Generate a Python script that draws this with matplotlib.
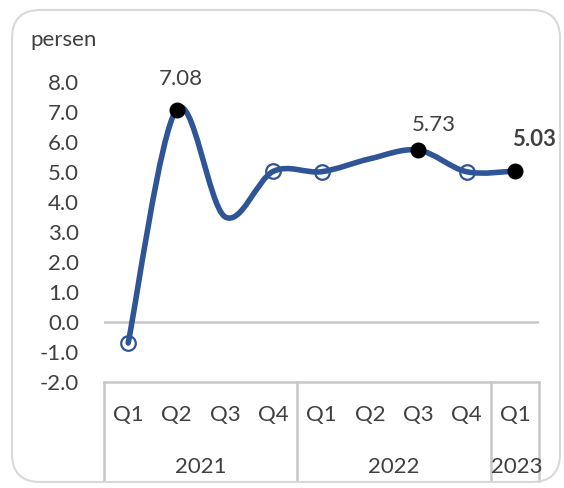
import matplotlib
matplotlib.use("Agg")
from matplotlib import pyplot as plt
from matplotlib.path import Path
from matplotlib.patches import PathPatch, FancyBboxPatch

plt.rcParams['font.family'] = ['Lato', 'DejaVu Sans']

quarters = ['Q1', 'Q2', 'Q3', 'Q4', 'Q1', 'Q2', 'Q3', 'Q4', 'Q1']
years = ['2021', '2022', '2023']
year_spans = [(0, 3), (4, 7), (8, 8)]
growth = [-0.70, 7.08, 3.51, 5.02, 5.01, 5.44, 5.73, 5.01, 5.03]
filled = [1, 6, 8]
hollow = [0, 3, 4, 7]
labels = {1: '7.08', 6: '5.73', 8: '5.03'}

blue = '#2F5597'
txt = '#404040'
grid = '#C8C8C8'
fs = 16

fig = plt.figure(figsize=(5.64, 4.88), dpi=100)
ax = fig.add_axes([104 / 564, 1 - 382 / 488, 435 / 564, 300 / 488])

# rounded frame around the chart
frame = FancyBboxPatch((12 / 564, 6 / 488), 548 / 564, 472 / 488,
                       boxstyle="round,pad=0,rounding_size=0.05",
                       transform=fig.transFigure, fill=False,
                       edgecolor='#D9D9D9', linewidth=1.5, mutation_aspect=564 / 488)
fig.add_artist(frame)

# smooth line like excel (catmull-rom -> bezier)
xs = list(range(len(growth)))
pts = list(zip(xs, growth))
verts = [pts[0]]
codes = [Path.MOVETO]
for i in range(len(pts) - 1):
    p0 = pts[i - 1] if i > 0 else pts[i]
    p1 = pts[i]
    p2 = pts[i + 1]
    p3 = pts[i + 2] if i + 2 < len(pts) else pts[i + 1]
    c1 = (p1[0] + (p2[0] - p0[0]) / 6, p1[1] + (p2[1] - p0[1]) / 6)
    c2 = (p2[0] - (p3[0] - p1[0]) / 6, p2[1] - (p3[1] - p1[1]) / 6)
    verts += [c1, c2, p2]
    codes += [Path.CURVE4] * 3
ax.add_patch(PathPatch(Path(verts, codes), facecolor='none', edgecolor=blue,
                       linewidth=4.0, capstyle='round', joinstyle='round', zorder=3))

ax.plot(hollow, [growth[i] for i in hollow], 'o', ms=10.5, mfc='none', mec=blue, mew=1.6, zorder=4)
ax.plot(filled, [growth[i] for i in filled], 'o', ms=10.5, mfc='black', mec='black', zorder=4)

offsets = {1: (3, 22), 6: (11, 18), 8: (14, 23)}
for i, t in labels.items():
    ax.annotate(t, (i, growth[i]), xytext=offsets[i], textcoords='offset points',
                ha='center', va='center', fontsize=fs, color=txt,
                fontweight='bold' if i == 8 else 'normal')

ax.axhline(0, color=grid, linewidth=1.8, zorder=1)

ax.set_xlim(-0.5, len(growth) - 0.5)
ax.set_ylim(-2, 8)
ax.set_yticks(range(-2, 9))
ax.set_yticklabels([f'{v:.1f}' for v in range(-2, 9)])
ax.tick_params(axis='y', length=0, pad=18, labelsize=fs, labelcolor=txt)
ax.set_xticks([])
for s in ax.spines.values():
    s.set_visible(False)

# category table below the axis
tr = ax.get_xaxis_transform()
ax.plot([-0.5, len(growth) - 0.5], [0, 0], transform=tr, color=grid, lw=1.8, clip_on=False)
for xd in [-0.5, 3.5, 7.5, 8.5]:
    ax.plot([xd, xd], [0, -0.33], transform=tr, color=grid, lw=1.8, clip_on=False)
for i, q in enumerate(quarters):
    ax.text(i, -0.11, q, transform=tr, ha='center', va='center', fontsize=fs, color=txt)
for y, (a, b) in zip(years, year_spans):
    ax.text((a + b) / 2 + (0.03 if y == '2023' else 0), -0.283, y, transform=tr,
            ha='center', va='center', fontsize=fs, color=txt)

fig.text(30 / 564, 1 - 40 / 488, 'persen', ha='left', va='center', fontsize=fs, color=txt)

fig.savefig('out.png', dpi=100)
